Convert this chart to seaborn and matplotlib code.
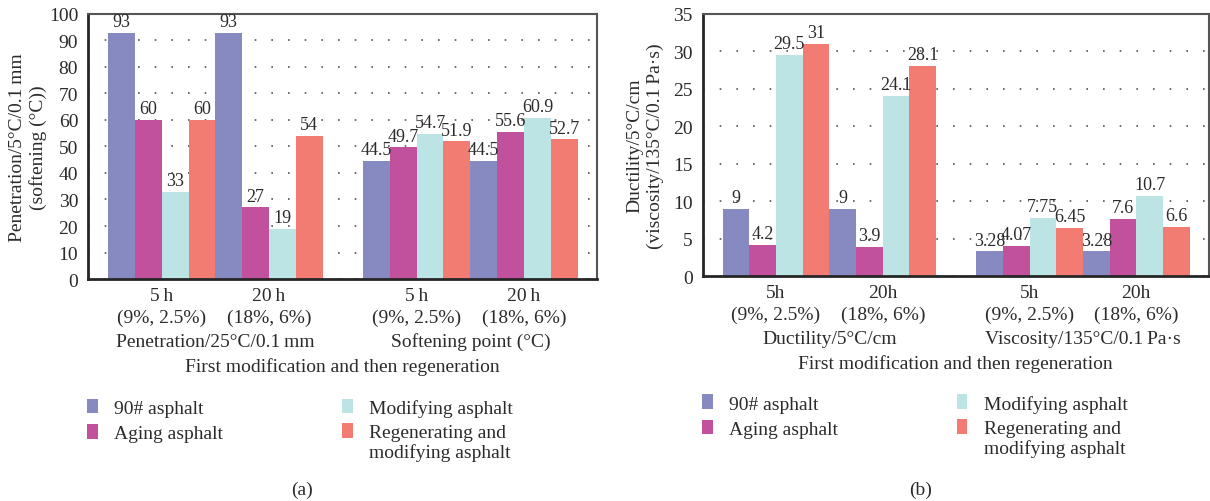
import numpy as np
import pandas as pd
import matplotlib
matplotlib.use("Agg")
import matplotlib.pyplot as plt
from matplotlib.patches import Patch, Rectangle
from matplotlib.legend_handler import HandlerPatch
from matplotlib.transforms import blended_transform_factory
import seaborn as sns

# ---- data -------------------------------------------------------------
series = ["90# asphalt", "Aging asphalt", "Modifying asphalt",
          "Regenerating and\nmodifying asphalt"]
colors = ["#8789C1", "#C1519D", "#BDE4E4", "#F27B72"]

# panel (a): penetration (two ageing times) then softening point
a_groups = ["5\u2009h\n(9%, 2.5%)", "20\u2009h\n(18%, 6%)",
            "5\u2009h\n(9%, 2.5%)", "20\u2009h\n(18%, 6%)"]
a_categories = ["Penetration/25°C/0.1\u2009mm", "Softening point (°C)"]
a_90 = [93, 93, 44.5, 44.5]
a_aging = [60, 27, 49.7, 55.6]
a_modifying = [33, 19, 54.7, 60.9]
a_regen = [60, 54, 51.9, 52.7]

# panel (b): ductility then viscosity
b_groups = ["5h\n(9%, 2.5%)", "20h\n(18%, 6%)",
            "5h\n(9%, 2.5%)", "20h\n(18%, 6%)"]
b_categories = ["Ductility/5°C/cm", "Viscosity/135°C/0.1\u2009Pa·s"]
b_90 = [9, 9, 3.28, 3.28]
b_aging = [4.2, 3.9, 4.07, 7.6]
b_modifying = [29.5, 24.1, 7.75, 10.7]
b_regen = [31, 28.1, 6.45, 6.6]

xlabel = "First modification and then regeneration"

# group centres: two adjacent groups per property, a gap between properties
group_pos = [0.0, 1.0, 2.374, 3.374]
cat_centres = [0.5, 2.874]

FS = 14

sns.set_style("white")
plt.rcParams["font.family"] = ["Liberation Serif", "DejaVu Serif"]
plt.rcParams["text.color"] = "#2b2b2b"
plt.rcParams["axes.labelcolor"] = "#2b2b2b"
plt.rcParams["xtick.color"] = "#2b2b2b"
plt.rcParams["ytick.color"] = "#2b2b2b"

fig = plt.figure(figsize=(12.1, 5.02), dpi=100)
ax_a = fig.add_axes([0.0727, 0.4422, 0.4207, 0.528])
ax_b = fig.add_axes([0.5807, 0.4482, 0.4184, 0.522])

PX = 72 / 100  # points per pixel at this dpi


def top_aligned_square(legend, orig_handle, xdescent, ydescent, width,
                       height, fontsize):
    # lift the swatch so it sits beside the first line of a two-line label
    return Rectangle((-xdescent, -ydescent + 0.62 * fontsize), width, height)


def long_frame(values):
    rows = []
    for name, vals in zip(series, values):
        for p, v in zip(group_pos, vals):
            rows.append({"pos": p, "series": name, "value": v})
    return pd.DataFrame(rows)


def draw_panel(ax, values, groups, categories, ymax, ystep, ylabel, ypad,
               tag, tag_x):
    df = long_frame(values)
    sns.barplot(data=df, x="pos", y="value", hue="series", hue_order=series,
                palette=colors, native_scale=True, width=1.0, dodge=True,
                saturation=1, errorbar=None, linewidth=0, legend=False,
                ax=ax, zorder=2)

    for cont in ax.containers:
        ax.bar_label(cont, fmt="%g", padding=2, fontsize=13, color="#2b2b2b")

    ax.set_xlim(-0.687, 4.054)
    ax.set_ylim(0, ymax)
    ax.set_yticks(np.arange(0, ymax + 0.1, ystep))
    ax.set_xticks(group_pos)
    ax.set_xticklabels(groups, fontsize=FS, linespacing=1.3)
    ax.set_xticks([1.687], minor=True)
    ax.tick_params(axis="x", which="major", length=0, pad=6)
    ax.tick_params(axis="x", which="minor", length=2, direction="in", width=1)
    ax.tick_params(axis="y", length=0, pad=7, labelsize=FS)

    ax.grid(axis="y", linestyle=(0, (1, 9)), linewidth=1.2, color="#555555",
            zorder=0)
    ax.set_axisbelow(True)

    for side in ["left", "bottom"]:
        ax.spines[side].set_linewidth(2.0)
        ax.spines[side].set_color("#262626")
    for side in ["top", "right"]:
        ax.spines[side].set_linewidth(1.5)
        ax.spines[side].set_color("#555555")
        ax.spines[side].set_visible(True)

    ax.set_ylabel(ylabel, fontsize=FS, linespacing=1.25, labelpad=ypad)
    ax.set_xlabel("")

    trans = blended_transform_factory(ax.transData, ax.transAxes)
    for cx, name in zip(cat_centres, categories):
        ax.annotate(name, xy=(cx, 0), xycoords=trans, xytext=(0, -62 * PX),
                    textcoords="offset points", ha="center", va="center",
                    fontsize=FS)
    ax.annotate(xlabel, xy=(0.5, 0), xycoords="axes fraction",
                xytext=(0, -87 * PX), textcoords="offset points",
                ha="center", va="center", fontsize=FS)

    handles = [Patch(facecolor=c, edgecolor="none") for c in colors]
    ax.legend(handles, series, ncol=2, loc="upper left",
              bbox_to_anchor=(-0.036, -0.385), frameon=False, fontsize=FS,
              handlelength=0.55, handleheight=0.8, handletextpad=0.85,
              columnspacing=6.1, labelspacing=0.36,
              handler_map={handles[3]: HandlerPatch(
                  patch_func=top_aligned_square)})

    fig.text(tag_x, 0.024, tag, ha="center", va="center", fontsize=FS)


draw_panel(ax_a, [a_90, a_aging, a_modifying, a_regen], a_groups, a_categories,
           100, 10, "Penetration/5°C/0.1\u2009mm\n(softening (°C))", 1,
           "(a)", 0.25)
draw_panel(ax_b, [b_90, b_aging, b_modifying, b_regen], b_groups, b_categories,
           35, 5, "Ductility/5°C/cm\n(viscosity/135°C/0.1\u2009Pa·s)", 7,
           "(b)", 0.761)

fig.savefig("out.png", dpi=100)
